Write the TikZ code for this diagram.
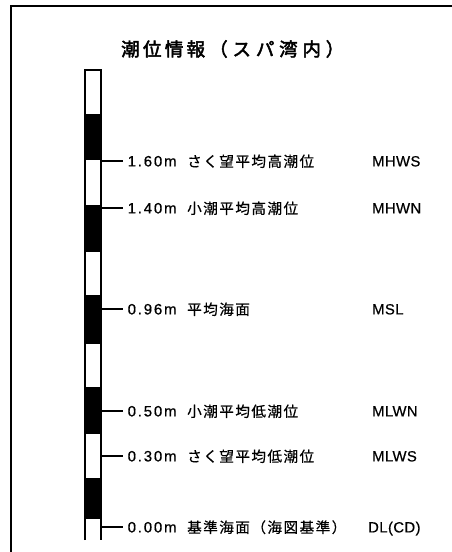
\documentclass[tikz,border=0pt]{standalone}
\usepackage{fontspec}
\newfontfamily\jp[LetterSpace=10,FakeBold=0.6]{Noto Sans CJK JP}
\newfontfamily\jptitle[LetterSpace=18,FakeBold=2.5]{Noto Sans CJK JP}
\newfontfamily\jptitleb[LetterSpace=26,FakeBold=2.5]{Noto Sans CJK JP}
\newfontfamily\numfont[LetterSpace=12,FakeBold=0.6]{Liberation Sans}
\newfontfamily\abbrfont[LetterSpace=3,FakeBold=0.6]{Liberation Sans}
\tikzset{
  frameline/.style={line width=2pt},
  whiteseg/.style={draw=black,fill=white,line width=1.8pt},
  blackseg/.style={fill=black},
  tick/.style={line width=2pt},
  valtext/.style={anchor=base west,inner sep=0pt,font=\fontsize{15}{16}\numfont},
  jptext/.style={anchor=base west,inner sep=0pt,font=\fontsize{14.6}{16}\jp},
  abbrtext/.style={anchor=base west,inner sep=0pt,font=\fontsize{14.8}{16}\abbrfont},
  titletext/.style={anchor=base west,inner sep=0pt},
}
\begin{document}
\begin{tikzpicture}[x=1pt,y=-1pt]
\useasboundingbox (0,0) rectangle (452,552);
% frame
\draw[frameline] (11,552) -- (11,6) -- (452,6);
% title
\node[titletext,font=\fontsize{18.5}{20}\jptitle] (title1) at (121,56) {潮位情報};
\node[titletext,font=\fontsize{18.5}{20}\jptitleb] (title2) at (209,56) {（スパ湾内）};
% staff
\draw[whiteseg] (84.9,70) rectangle (101.1,115);
\fill[blackseg] (84,115) rectangle (102,159);
\draw[whiteseg] (84.9,159) rectangle (101.1,206);
\fill[blackseg] (84,206) rectangle (102,251);
\draw[whiteseg] (84.9,251) rectangle (101.1,296);
\fill[blackseg] (84,296) rectangle (102,343);
\draw[whiteseg] (84.9,343) rectangle (101.1,388);
\fill[blackseg] (84,388) rectangle (102,433);
\draw[whiteseg] (84.9,433) rectangle (101.1,479);
\fill[blackseg] (84,479) rectangle (102,518);
\draw[line width=1.8pt] (84.9,540) -- (84.9,518) -- (101.1,518) -- (101.1,540);
% levels
\foreach \i/\y/\v/\j/\a/\ax in {
  1/161/1.60m/さく望平均高潮位/MHWS/372,
  2/208/1.40m/小潮平均高潮位/MHWN/372,
  3/309/0.96m/平均海面/MSL/372,
  4/411/0.50m/小潮平均低潮位/MLWN/372,
  5/456/0.30m/さく望平均低潮位/MLWS/372,
  6/527/0.00m/基準海面（海図基準）/DL(CD)/368}{
  \coordinate (s\i) at (102,\y);
  \coordinate (e\i) at (123,\y);
  \draw[tick] (s\i) -- (e\i);
  \node[valtext] (v\i) at (127.5,\y+5.4) {\v};
  \node[jptext] (j\i) at (187,\y+5.8) {\j};
  \node[abbrtext] (a\i) at (\ax,\y+5.4) {\a};
}
\end{tikzpicture}
\end{document}
